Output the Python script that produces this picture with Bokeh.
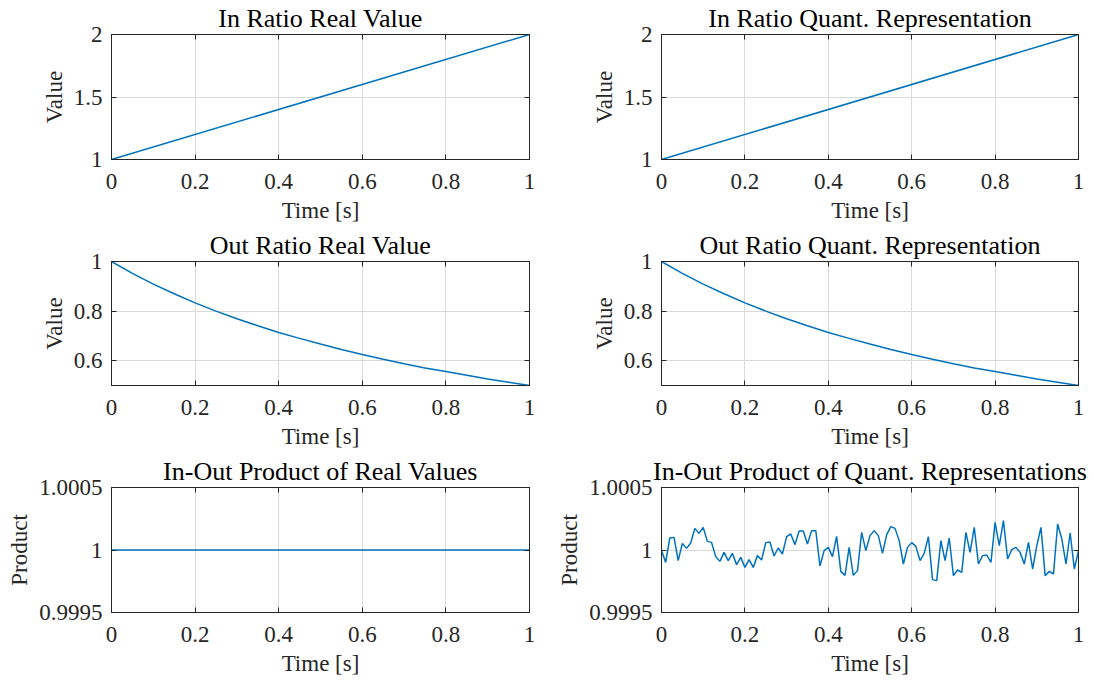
import numpy as np
from bokeh.plotting import figure
from bokeh.layouts import gridplot
from bokeh.models import Range1d, FixedTicker, LinearAxis
from bokeh.embed import file_html
from bokeh.resources import INLINE

# ---------------- data ----------------
x_ticks = [0, 0.2, 0.4, 0.6, 0.8, 1]
x_tick_labels = ["0", "0.2", "0.4", "0.6", "0.8", "1"]

t_in = [0, 1]
in_ratio = [1.0, 2.0]

t_out = [0, 0.05, 0.1, 0.15, 0.2, 0.25, 0.3, 0.35, 0.4, 0.45, 0.5,
         0.55, 0.6, 0.65, 0.7, 0.75, 0.8, 0.85, 0.9, 0.95, 1]
out_ratio = [1.0, 0.952, 0.909, 0.870, 0.833, 0.800, 0.769, 0.741, 0.714, 0.690, 0.667,
             0.645, 0.625, 0.606, 0.588, 0.571, 0.556, 0.541, 0.526, 0.513, 0.5]

t_prod = [0, 1]
prod_real = [1.0, 1.0]

t_q = list(np.round(np.arange(101) * 0.01, 2))
prod_quant = [
    0.999995, 0.999901, 1.000096, 1.000101, 0.999915, 1.000053, 1.000013, 1.000056, 1.000173, 1.000133,
    1.000181, 1.000069, 1.000061, 0.999947, 0.999909, 0.999981, 0.999915, 0.999973, 0.999883, 0.999941,
    0.999861, 0.999923, 0.999861, 0.999955, 0.999920, 1.000059, 1.000064, 0.999952, 1.000016, 0.999968,
    1.000107, 1.000128, 1.000043, 1.000152, 1.000152, 1.000048, 1.000155, 1.000155, 0.999872, 0.999995,
    1.000021, 0.999947, 1.000109, 0.999829, 0.999797, 1.000021, 0.999797, 0.999835, 1.000141, 0.999995,
    1.000115, 1.000155, 1.000115, 0.999973, 1.000123, 1.000187, 1.000173, 1.000075, 0.999888, 1.000021,
    1.000059, 1.000029, 0.999915, 0.999973, 1.000107, 0.999763, 0.999755, 1.000075, 0.999915, 1.000096,
    0.999795, 0.999840, 0.999821, 1.000141, 0.999981, 1.000181, 0.999888, 0.999955, 0.999960, 0.999901,
    1.000221, 1.000035, 1.000235, 0.999928, 1.000003, 1.000021, 0.999981, 0.999888, 1.000061, 0.999848,
    1.000035, 1.000181, 0.999795, 0.999829, 0.999808, 1.000208, 1.000088, 0.999888, 1.000136, 0.999848,
    0.999995,
]

ratio_in_ticks = [1, 1.5, 2]
ratio_in_labels = ["1", "1.5", "2"]
ratio_out_ticks = [0.6, 0.8, 1]
ratio_out_labels = ["0.6", "0.8", "1"]
prod_ticks = [0.9995, 1, 1.0005]
prod_labels = ["0.9995", "1", "1.0005"]

# ---------------- style ----------------
FONT = "Liberation Serif"
LINE = "#0072BD"
AX = "#262626"
GRID = "#dadada"


def hidden_axis(ticks):
    a = LinearAxis(ticker=FixedTicker(ticks=ticks))
    a.major_label_text_color = None
    a.major_label_text_font_size = "1px"
    a.major_label_standoff = 0
    a.major_tick_in = 5
    a.major_tick_out = 0
    a.major_tick_line_color = AX
    a.minor_tick_line_color = None
    a.axis_line_color = AX
    return a


def make(title, ylabel, xs, ys, yr, yticks, ylabels, width, height, bl, br, bt, bb):
    p = figure(width=width, height=height, x_range=Range1d(0, 1), y_range=Range1d(*yr),
               output_backend="svg", toolbar_location=None,
               min_border_left=bl, min_border_right=br, min_border_top=bt, min_border_bottom=bb,
               background_fill_color="white", border_fill_color="white",
               outline_line_color=AX, outline_line_width=1)
    p.title.text = title
    p.title.align = "center"
    p.title.text_font = FONT
    p.title.text_font_size = "26px"
    p.title.text_font_style = "normal"
    p.title.text_color = "#000000"
    p.title.standoff = 3

    xa = p.xaxis[0]
    xa.ticker = FixedTicker(ticks=x_ticks)
    xa.major_label_overrides = dict(zip(x_ticks, x_tick_labels))
    xa.axis_label = "Time [s]"
    xa.axis_label_standoff = 6
    xa.major_label_standoff = 14

    ya = p.yaxis[0]
    ya.ticker = FixedTicker(ticks=yticks)
    ya.major_label_overrides = dict(zip(yticks, ylabels))
    ya.axis_label = ylabel
    ya.axis_label_standoff = 4
    ya.major_label_standoff = 9

    for a in (xa, ya):
        a.major_label_text_font = FONT
        a.major_label_text_font_size = "23px"
        a.major_label_text_color = AX
        a.axis_label_text_font = FONT
        a.axis_label_text_font_size = "23px"
        a.axis_label_text_font_style = "normal"
        a.axis_label_text_color = AX
        a.major_tick_in = 5
        a.major_tick_out = 0
        a.major_tick_line_color = AX
        a.minor_tick_line_color = None
        a.axis_line_color = AX

    p.add_layout(hidden_axis(x_ticks), "above")
    p.add_layout(hidden_axis(yticks), "right")

    p.xgrid.ticker = FixedTicker(ticks=x_ticks)
    p.ygrid.ticker = FixedTicker(ticks=yticks)
    for g in (p.xgrid, p.ygrid):
        g.grid_line_color = GRID
        g.grid_line_width = 1

    p.line(xs, ys, line_color=LINE, line_width=1.5)
    return p


WL, WR = 551, 541
BL_L, BR_L, BL_R, BR_R = 111, 22, 110, 14
H1, H2, H3 = 227, 226, 227
BT1, BT2, BT3 = 34, 34, 34
BB = 68

p11 = make("In Ratio Real Value", "Value", t_in, in_ratio, (1, 2), ratio_in_ticks, ratio_in_labels,
           WL, H1, BL_L, BR_L, BT1, BB)
p12 = make("In Ratio Quant. Representation", "Value", t_in, in_ratio, (1, 2), ratio_in_ticks, ratio_in_labels,
           WR, H1, BL_R, BR_R, BT1, BB)
p21 = make("Out Ratio Real Value", "Value", t_out, out_ratio, (0.5, 1), ratio_out_ticks, ratio_out_labels,
           WL, H2, BL_L, BR_L, BT2, BB)
p22 = make("Out Ratio Quant. Representation", "Value", t_out, out_ratio, (0.5, 1), ratio_out_ticks, ratio_out_labels,
           WR, H2, BL_R, BR_R, BT2, BB)
p31 = make("In-Out Product of Real Values", "Product", t_prod, prod_real, (0.9995, 1.0005), prod_ticks, prod_labels,
           WL, H3, BL_L, BR_L, BT3, BB)
p32 = make("In-Out Product of Quant. Representations", "Product", t_q, prod_quant, (0.9995, 1.0005), prod_ticks, prod_labels,
           WR, H3, BL_R, BR_R, BT3, BB)

grid = gridplot([[p11, p12], [p21, p22], [p31, p32]], toolbar_location=None)

open("out.html", "w").write(file_html(grid, INLINE))
